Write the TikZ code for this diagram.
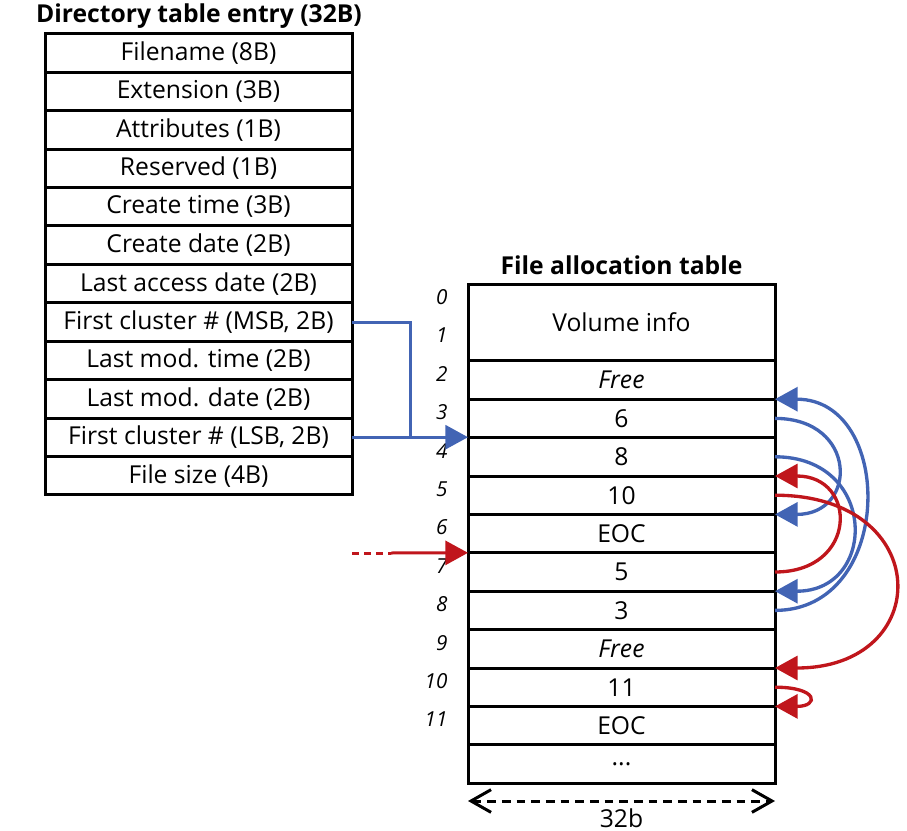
\documentclass[tikz,border=0pt]{standalone}
\usepackage{fontspec}
\setmainfont{Open Sans}
\usetikzlibrary{arrows.meta}

\definecolor{fatblue}{RGB}{66,100,180}
\definecolor{fatred}{RGB}{192,22,28}

\tikzset{every picture/.style={line width=2.25pt}}
\tikzset{
  cell/.style={draw, minimum width=230.25pt, minimum height=28.8pt, inner sep=0pt, outer sep=0pt, font=\fontsize{18.5}{22}\selectfont},
  idx/.style={anchor=east, inner sep=0pt, font=\fontsize{15.5}{18}\selectfont\itshape},
  ttl/.style={inner sep=0pt, font=\fontsize{18.5}{22}\selectfont\bfseries},
  bluelink/.style={draw=fatblue, line width=2.5pt, -{Triangle[length=17pt,width=18pt]}},
  redlink/.style={draw=fatred, line width=2.5pt, -{Triangle[length=17pt,width=18pt]}},
}

\begin{document}
\begin{tikzpicture}[x=0.75pt,y=0.75pt,yscale=-1,xscale=1]
\useasboundingbox (0,0) rectangle (907,831);

% Titles
\draw (199,16) node [ttl] (dtitle) {Directory table entry (32B)};
\draw (621.5,265) node [ttl] (ftitle) {File allocation table};

% Directory table entry
\draw (198.5,53.2) node [cell] (d1) {Filename (8B)};
\draw (198.5,91.6) node [cell] (d2) {Extension (3B)};
\draw (198.5,130) node [cell] (d3) {Attributes (1B)};
\draw (198.5,168.4) node [cell] (d4) {Reserved (1B)};
\draw (198.5,206.8) node [cell] (d5) {Create time (3B)};
\draw (198.5,245.2) node [cell] (d6) {Create date (2B)};
\draw (198.5,283.6) node [cell] (d7) {Last access date (2B)};
\draw (198.5,322) node [cell] (d8) {First cluster \# (MSB, 2B)};
\draw (198.5,360.4) node [cell] (d9) {Last mod. time (2B)};
\draw (198.5,398.8) node [cell] (d10) {Last mod. date (2B)};
\draw (198.5,437.2) node [cell] (d11) {First cluster \# (LSB, 2B)};
\draw (198.5,475.6) node [cell] (d12) {File size (4B)};

% File allocation table
\draw (621.5,322.4) node [cell, minimum height=57.6pt] (fvol) {Volume info};
\draw (621.5,380) node [cell] (f2) {\itshape Free};
\draw (621.5,418.4) node [cell] (f3) {6};
\draw (621.5,456.8) node [cell] (f4) {8};
\draw (621.5,495.2) node [cell] (f5) {10};
\draw (621.5,533.6) node [cell] (f6) {EOC};
\draw (621.5,572) node [cell] (f7) {5};
\draw (621.5,610.4) node [cell] (f8) {3};
\draw (621.5,648.8) node [cell] (f9) {\itshape Free};
\draw (621.5,687.2) node [cell] (f10) {11};
\draw (621.5,725.6) node [cell] (f11) {EOC};
\draw (621.5,764) node [cell] (fdots) {...};

% Cluster numbers
\draw (449,297.2) node [idx] (n0) {0};
\draw (449,335.6) node [idx] (n1) {1};
\draw (449,374) node [idx] (n2) {2};
\draw (449,412.4) node [idx] (n3) {3};
\draw (449,450.8) node [idx] (n4) {4};
\draw (449,489.2) node [idx] (n5) {5};
\draw (449,527.6) node [idx] (n6) {6};
\draw (449,566) node [idx] (n7) {7};
\draw (449,604.4) node [idx] (n8) {8};
\draw (449,642.8) node [idx] (n9) {9};
\draw (449,681.2) node [idx] (n10) {10};
\draw (449,719.6) node [idx] (n11) {11};

% First cluster pointer
\coordinate (join) at (410,437.2);
\draw [fatblue] (d8.east) -| (join);
\draw [bluelink, line width=2.25pt] (d11.east) -- (d11.east -| f4.west);

% Other file, coming in from outside
\coordinate (redin) at (352,553);
\coordinate (redmid) at (391,553);
\draw [fatred, dash pattern=on 5.25pt off 3.75pt] (redin) -- (redmid);
\draw [redlink, line width=2.25pt] (redmid) -- (f7.north west);

% Cluster chains
\draw [bluelink] (f8.east) .. controls +(120,0) and +(120,0) .. (f3.north east);
\draw [bluelink] (f3.east) .. controls +(83,0) and +(83,0) .. (f6.north east);
\draw [bluelink] (f4.east) .. controls +(103,0) and +(103,0) .. (f8.north east);
\draw [redlink] (f7.east) .. controls +(83,0) and +(83,0) .. (f5.north east);
\draw [redlink] (f5.east) .. controls +(160,0) and +(160,0) .. (f10.north east);
\draw [redlink] (f10.east) .. controls +(44,0) and +(44,0) .. (f11.north east);

% Cluster size
\coordinate (wl) at (468,801);
\coordinate (wr) at (775,801);
\draw [{Straight Barb[length=15pt,width=17pt]}-{Straight Barb[length=15pt,width=17pt]}, dash pattern=on 6.5pt off 4.5pt] (wl) -- (wr);
\draw (621.5,818) node [inner sep=0pt, font=\fontsize{18.5}{22}\selectfont] (wlabel) {32b};

\end{tikzpicture}
\end{document}
